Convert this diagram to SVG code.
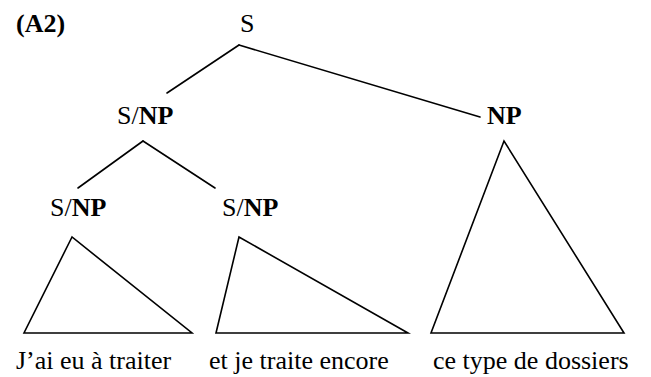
<svg xmlns="http://www.w3.org/2000/svg" width="651" height="377" viewBox="0 0 651 377">
<style>
.t{font-family:"Liberation Serif","Times New Roman",serif;font-size:26px;fill:#000}
.b{font-weight:bold}
.e{stroke:#000;stroke-width:1.6;fill:none;stroke-linecap:round}
</style>
<rect width="651" height="377" fill="#fff"/>
<text class="t b" x="16" y="32" font-family="Liberation Serif" font-size="26" font-weight="bold">(A2)</text>
<g id="connectors">
<line class="e" x1="239" y1="45" x2="167" y2="93"/>
<line class="e" x1="239" y1="45" x2="480" y2="117"/>
<line class="e" x1="143" y1="141" x2="78" y2="188"/>
<line class="e" x1="143" y1="141" x2="215" y2="188"/>
</g>
<g id="node-S"><text class="t" x="240" y="32" font-family="Liberation Serif" font-size="26">S</text></g>
<g id="node-SNP1"><text class="t" x="117" y="124" font-family="Liberation Serif" font-size="26">S/<tspan class="b">NP</tspan></text></g>
<g id="node-NP"><text class="t b" x="487" y="124" font-family="Liberation Serif" font-size="26" font-weight="bold">NP</text>
<polygon class="e" points="504,141 431,333 624,333"/>
<text class="t" x="433" y="369" font-family="Liberation Serif" font-size="26">ce type de dossiers</text></g>
<g id="node-SNP2"><text class="t" x="50" y="216" font-family="Liberation Serif" font-size="26">S/<tspan class="b">NP</tspan></text>
<polygon class="e" points="72,237 24,333 192,333"/>
<text class="t" x="16" y="369" font-family="Liberation Serif" font-size="26">J’ai eu à traiter</text></g>
<g id="node-SNP3"><text class="t" x="222" y="216" font-family="Liberation Serif" font-size="26">S/<tspan class="b">NP</tspan></text>
<polygon class="e" points="239,237 216,333 408,333"/>
<text class="t" x="209" y="369" font-family="Liberation Serif" font-size="26">et je traite encore</text></g>
</svg>
